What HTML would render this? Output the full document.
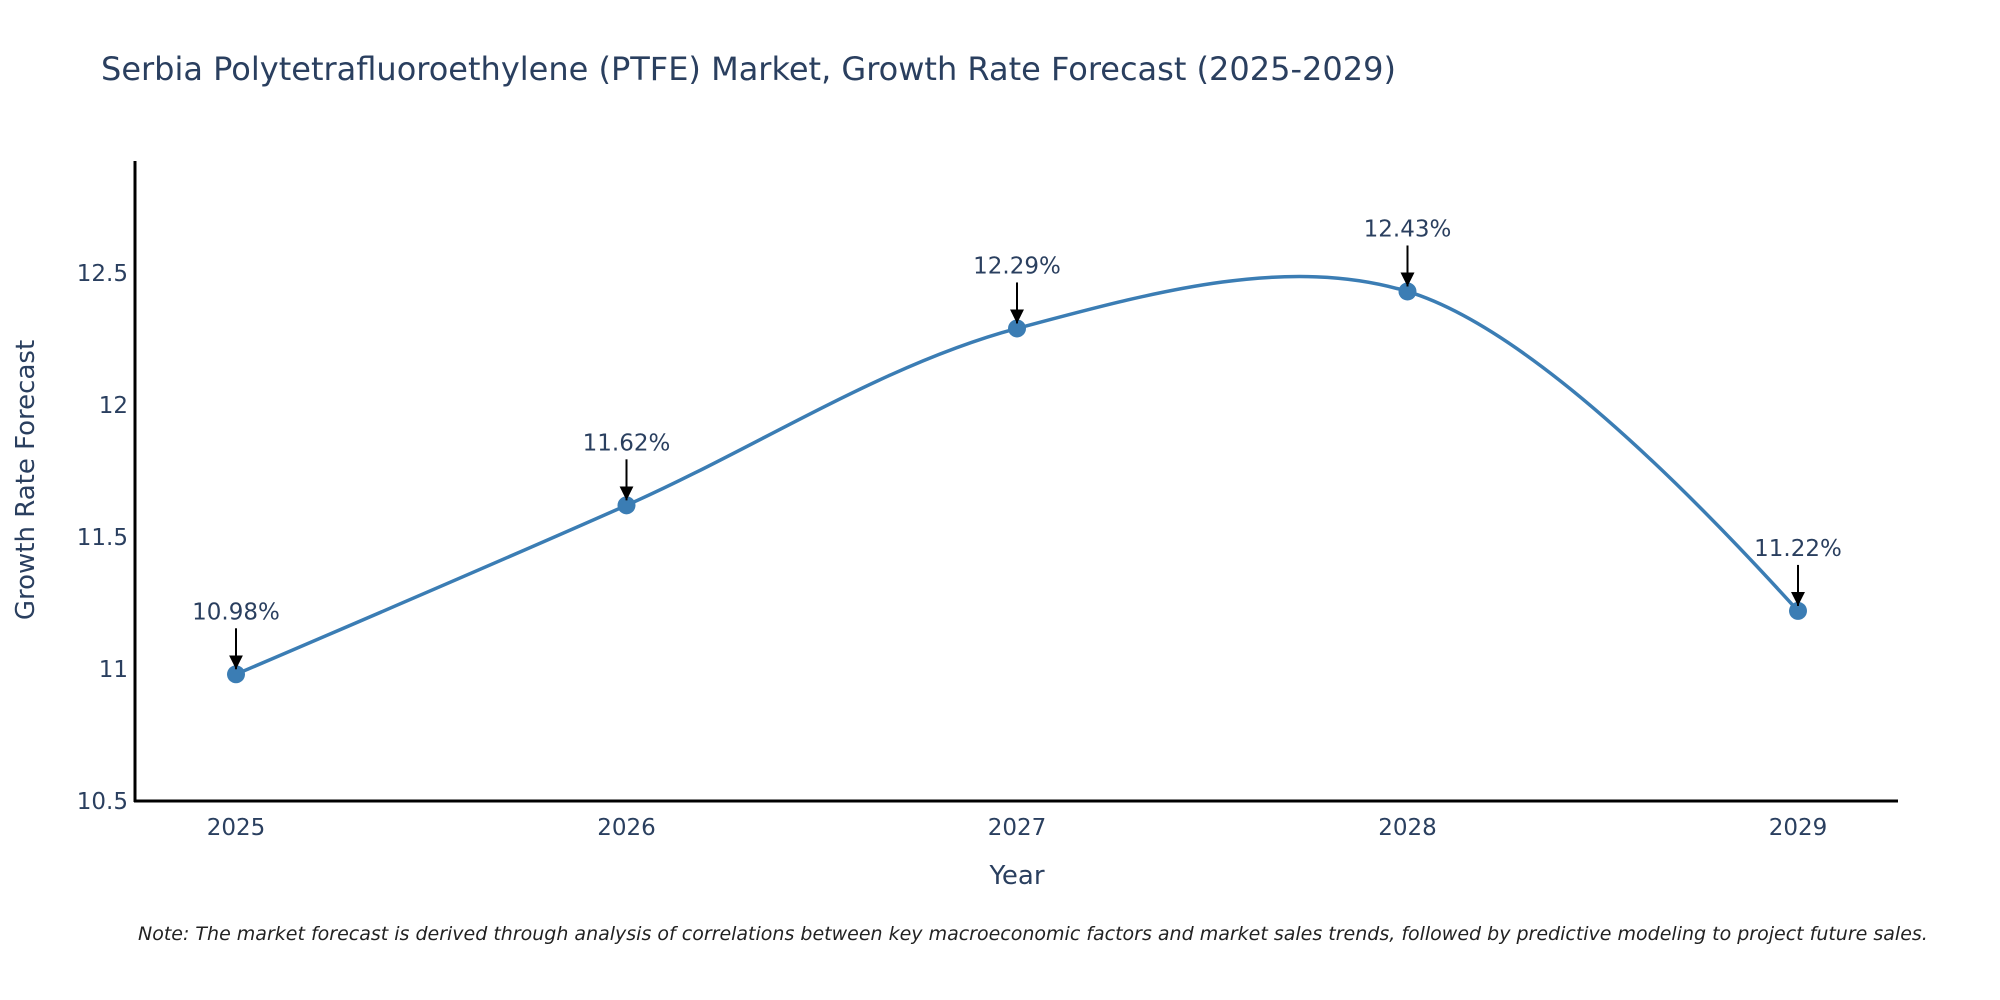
<!DOCTYPE html>
<html><head><meta charset="utf-8"><style>
body{margin:0;background:#fff;}
svg{display:block;font-family:"DejaVu Sans","Liberation Sans",sans-serif;}
</style></head><body>
<svg id="chart" width="2000" height="1000">
<text x="101" y="80" font-size="32" fill="#2a3f5f">Serbia Polytetrafluoroethylene (PTFE) Market, Growth Rate Forecast (2025-2029)</text>
<g id="yticks"></g>
<g id="xticks"></g>
<line x1="135" y1="161" x2="135" y2="802" stroke="#000" stroke-width="3"/>
<line x1="134" y1="801" x2="1898" y2="801" stroke="#000" stroke-width="3"/>
<path id="line" fill="none" stroke="#3b7db4" stroke-width="3.5"/>
<g id="marks"></g>
<text x="1017" y="884" font-size="26" fill="#2a3f5f" text-anchor="middle">Year</text>
<text transform="translate(34,480) rotate(-90)" font-size="26" fill="#2a3f5f" text-anchor="middle">Growth Rate Forecast</text>
<text x="138" y="940" font-size="19" font-style="italic" fill="#222">Note: The market forecast is derived through analysis of correlations between key macroeconomic factors and market sales trends, followed by predictive modeling to project future sales.</text>
<defs><marker id="arr" viewBox="0 0 10 10" refX="10" refY="5" markerWidth="7" markerHeight="7" orient="auto"><path d="M0,0L10,5L0,10z" fill="#000"/></marker></defs>
</svg>
<script>
const years=[2025,2026,2027,2028,2029];
const values=[10.98,11.62,12.29,12.43,11.22];
const labels=["10.98%","11.62%","12.29%","12.43%","11.22%"];
const yTicks=[10.5,11,11.5,12,12.5];
const yTickLabels=["10.5","11","11.5","12","12.5"];
const NS="http://www.w3.org/2000/svg";
const X=v=>236+(v-2025)*390.5;
const Y=v=>801-(v-10.5)*264;
function el(t,a,p){const e=document.createElementNS(NS,t);for(const k in a)e.setAttribute(k,a[k]);p.appendChild(e);return e;}
const yt=document.getElementById('yticks');
yTicks.forEach((t,i)=>{const e=el('text',{x:128,y:Y(t)+8,'font-size':23,fill:'#2a3f5f','text-anchor':'end'},yt);


e.textContent=yTickLabels[i];});
const xt=document.getElementById('xticks');
years.forEach(y=>{const e=el('text',{x:X(y),y:835,'font-size':23,fill:'#2a3f5f','text-anchor':'middle'},xt);


e.textContent=y;});
const pts=years.map((y,i)=>[X(y),Y(values[i])]);
function tan(p,t,n,s){const d1x=p[0]-t[0],d1y=p[1]-t[1],d2x=n[0]-t[0],d2y=n[1]-t[1];
const a=Math.pow(d1x*d1x+d1y*d1y,0.25),b=Math.pow(d2x*d2x+d2y*d2y,0.25);
const nx=(b*b*d1x-a*a*d2x)*s,ny=(b*b*d1y-a*a*d2y)*s,q1=3*b*(a+b),q2=3*a*(a+b);
return [[t[0]+nx/q1,t[1]+ny/q1],[t[0]-nx/q2,t[1]-ny/q2]];}
const T=[];for(let i=1;i<pts.length-1;i++)T.push(tan(pts[i-1],pts[i],pts[i+1],1.0));
let d='M'+pts[0]+'Q'+T[0][0]+' '+pts[1];
for(let i=2;i<pts.length-1;i++)d+='C'+T[i-2][1]+' '+T[i-1][0]+' '+pts[i];
d+='Q'+T[T.length-1][1]+' '+pts[pts.length-1];
document.getElementById('line').setAttribute('d',d);
const mk=document.getElementById('marks');
pts.forEach((p,i)=>{
const c=el('circle',{cx:p[0],cy:p[1],r:9,fill:'#3b7db4'},mk);


const l=el('line',{x1:p[0],y1:p[1]-46,x2:p[0],y2:p[1]-5,stroke:'#000','stroke-width':2,'marker-end':'url(#arr)'},mk);


const t=el('text',{x:p[0],y:p[1]-55,'font-size':23,fill:'#2a3f5f','text-anchor':'middle'},mk);


t.textContent=labels[i];});
</script>
</body></html>
